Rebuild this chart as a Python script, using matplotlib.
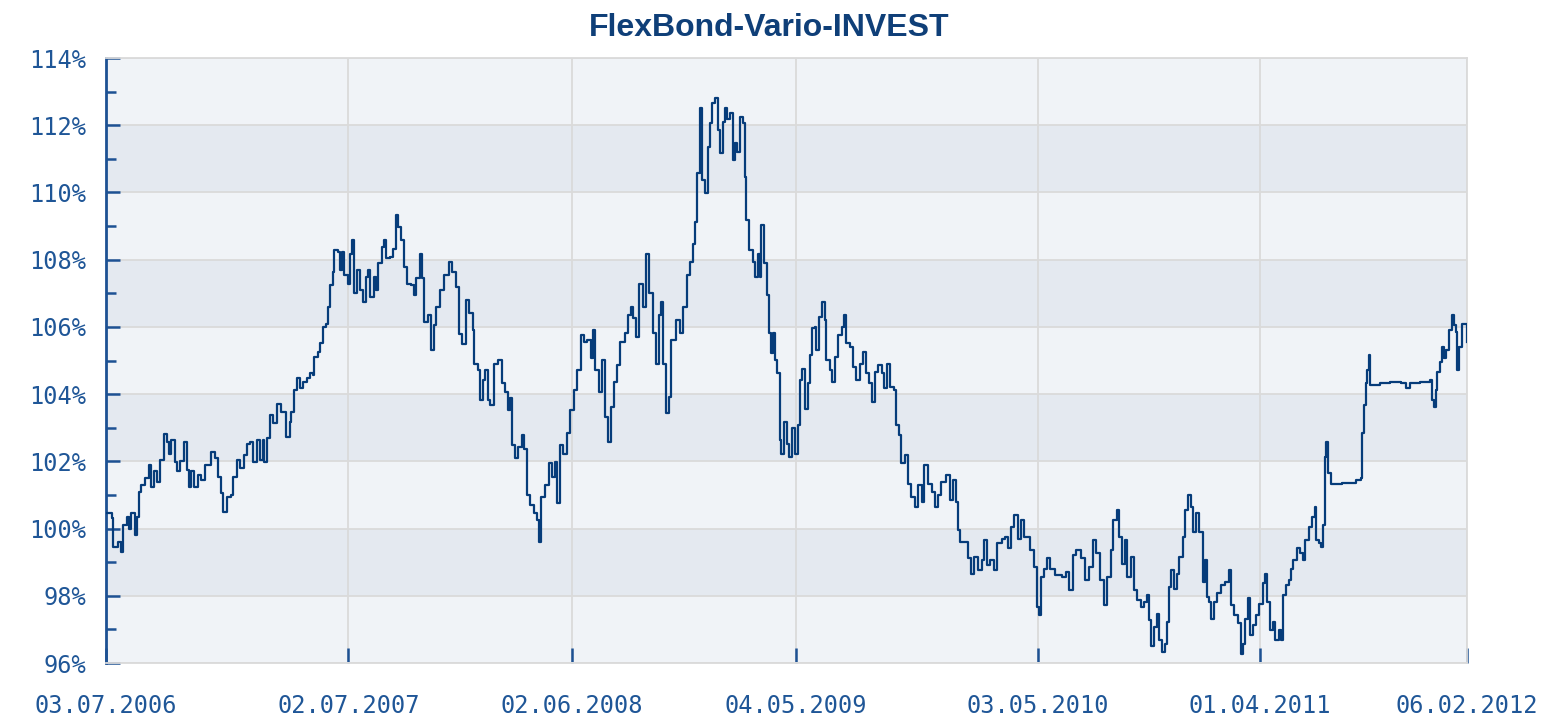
#!/usr/bin/env python3
"""FlexBond-Vario-INVEST – Wertentwicklung in % (03.07.2006 bis 06.02.2012)."""

import matplotlib
matplotlib.use("Agg")
import matplotlib.pyplot as plt
import matplotlib.dates as mdates
from matplotlib.ticker import MultipleLocator, FuncFormatter
import pandas as pd

# ── Daten ─────────────────────────────────────────────────────────────────────
START = "2006-07-03"

# Kalendertage seit Start
days = [
    1, 9, 10, 18, 22, 25, 31, 35, 38, 43, 46, 50, 53, 58, 64, 68, 72, 76, 81, 87,
    91, 95, 98, 103, 107, 111, 117, 121, 125, 128, 132, 138, 143, 148, 158, 163,
    168, 172, 176, 181, 188, 191, 196, 201, 207, 212, 216, 221, 226, 231, 235,
    237, 241, 246, 250, 257, 263, 270, 276, 278, 283, 287, 291, 296, 302, 307,
    311, 313, 318, 322, 326, 331, 333, 337, 341, 343, 348, 351, 355, 358, 363,
    367, 370, 373, 377, 381, 386, 390, 393, 397, 402, 406, 409, 414, 417, 421,
    426, 431, 435, 439, 443, 448, 452, 458, 462, 466, 471, 474, 478, 483, 488,
    492, 496, 501, 507, 515, 520, 525, 530, 535, 540, 545, 551, 553, 558, 562,
    566, 569, 573, 577, 583, 589, 594, 599, 603, 606, 610, 614, 619, 624, 628,
    632, 637, 642, 647, 650, 654, 659, 665, 670, 674, 677, 682, 687, 692, 697,
    703, 708, 713, 718, 723, 728, 731, 735, 740, 745, 750, 754, 758, 763, 768,
    772, 779, 784, 789, 792, 796, 800, 806, 811, 816, 821, 826, 831, 834, 837,
    841, 846, 849, 856, 862, 867, 872, 877, 881, 885, 888, 892, 895, 900, 904,
    907, 910, 914, 919, 922, 926, 930, 933, 937, 941, 944, 948, 952, 956, 959,
    961, 966, 971, 975, 979, 982, 984, 988, 992, 996, 998, 1002, 1004, 1008,
    1012, 1014, 1018, 1022, 1026, 1030, 1034, 1039, 1042, 1046, 1050, 1055,
    1057, 1061, 1065, 1067, 1071, 1075, 1080, 1082, 1087, 1090, 1095, 1099,
    1105, 1109, 1112, 1117, 1122, 1127, 1132, 1137, 1142, 1146, 1151, 1155,
    1160, 1165, 1169, 1173, 1177, 1184, 1187, 1191, 1194, 1200, 1204, 1209,
    1215, 1220, 1225, 1229, 1235, 1240, 1245, 1249, 1254, 1261, 1268, 1272,
    1276, 1279, 1283, 1290, 1294, 1299, 1304, 1309, 1315, 1319, 1323, 1328,
    1333, 1338, 1345, 1350, 1355, 1359, 1364, 1369, 1374, 1379, 1385, 1388,
    1393, 1398, 1401, 1404, 1409, 1413, 1418, 1425, 1435, 1442, 1447, 1452,
    1457, 1464, 1471, 1477, 1482, 1487, 1493, 1499, 1504, 1509, 1513, 1519,
    1522, 1526, 1530, 1534, 1539, 1544, 1549, 1554, 1559, 1564, 1566, 1569,
    1574, 1578, 1582, 1586, 1591, 1594, 1596, 1600, 1604, 1609, 1612, 1617,
    1621, 1625, 1629, 1633, 1637, 1642, 1647, 1650, 1653, 1656, 1660, 1664,
    1669, 1674, 1681, 1686, 1689, 1694, 1700, 1704, 1708, 1711, 1715, 1718,
    1723, 1727, 1732, 1737, 1741, 1744, 1748, 1752, 1756, 1761, 1764, 1768,
    1772, 1777, 1779, 1783, 1788, 1793, 1797, 1801, 1806, 1811, 1815, 1817,
    1821, 1825, 1827, 1830, 1832, 1836, 1840, 1857, 1878, 1885, 1887, 1889,
    1893, 1894, 1897, 1899, 1913, 1928, 1945, 1953, 1958, 1973, 1988, 1991,
    1994, 1997, 1999, 2003, 2006, 2009, 2013, 2017, 2021, 2024, 2027, 2029,
    2032, 2036, 2041, 2044,
]

# Wert in %
kurs = [
    100.46, 100.30, 99.46, 99.60, 99.30, 100.10, 100.35, 100.00, 100.46, 99.80,
    100.35, 101.10, 101.30, 101.50, 101.90, 101.24, 101.70, 101.40, 102.04,
    102.80, 102.58, 102.23, 102.63, 101.99, 101.70, 102.00, 102.58, 101.74,
    101.24, 101.70, 101.24, 101.60, 101.44, 101.89, 102.28, 102.09, 101.54,
    101.05, 100.50, 100.95, 101.00, 101.54, 102.04, 101.79, 102.18, 102.53,
    102.58, 101.99, 102.63, 102.04, 102.63, 101.99, 102.68, 103.38, 103.13,
    103.70, 103.47, 102.73, 103.18, 103.47, 104.12, 104.47, 104.17, 104.37,
    104.47, 104.62, 104.57, 105.11, 105.26, 105.51, 106.00, 106.10, 106.60,
    107.24, 107.64, 108.29, 108.24, 107.69, 108.24, 107.54, 107.29,
    108.18, 108.58, 107.00, 107.69, 107.10, 106.75, 107.49, 107.69, 106.90,
    107.49, 107.10, 107.89, 108.38, 108.58, 108.04, 108.09, 108.33, 109.33,
    108.98, 108.58, 107.79, 107.29, 107.24, 106.95, 107.44, 108.18, 107.44,
    106.15, 106.35, 105.31, 106.05, 106.60, 107.10, 107.54, 107.94, 107.64,
    107.19, 105.80, 105.50, 106.80, 106.40, 105.90, 104.91, 104.71, 103.82,
    104.42, 104.71, 103.82, 103.67, 104.91, 105.01, 104.32, 104.07, 103.52,
    103.87, 102.48, 102.09, 102.43, 102.78, 102.38, 100.99, 100.70, 100.45,
    100.24, 99.60, 100.95, 101.30, 101.94, 101.54, 101.99, 100.75, 102.48,
    102.23, 102.83, 103.52,
    104.12, 104.71, 105.76, 105.56, 105.61, 105.06, 105.90, 104.71, 104.07,
    105.01, 103.33, 102.58, 103.62, 104.37, 104.86, 105.56, 105.81, 106.35,
    106.60, 106.25, 105.70, 107.29, 106.60, 108.18, 107.00, 105.81, 104.91,
    106.35, 106.75, 104.91, 103.43, 103.92, 105.61, 106.20, 105.81, 106.60,
    107.54, 107.94, 108.48, 109.13, 110.57, 112.50, 110.37, 109.97, 111.36,
    112.06, 112.65, 112.80, 111.86, 111.16, 112.10, 112.50, 112.20, 112.35,
    110.96, 111.46, 111.21, 112.25, 112.06, 110.47, 109.18, 108.29, 107.94,
    107.49, 108.18, 107.49, 109.03, 107.89, 106.95, 105.81, 105.21, 105.81,
    105.01, 104.62, 102.63, 102.23, 103.18, 102.53, 102.13, 102.98, 102.23,
    103.08, 104.42, 104.76, 103.57, 104.32, 105.16, 105.96, 106.00, 105.31,
    106.30, 106.75, 106.20, 105.01, 104.71, 104.37, 105.11, 105.76, 106.00,
    106.35, 105.51, 105.41, 104.81, 104.42, 104.91, 105.26, 104.62, 104.32,
    103.77, 104.66, 104.86, 104.62, 104.17, 104.91, 104.22, 104.12, 103.08,
    102.78, 101.94, 102.18, 101.34, 100.95, 100.65, 101.29, 100.80, 101.89,
    101.34, 101.09, 100.65, 100.99, 101.39, 101.59, 100.85, 101.44, 100.80,
    99.95, 99.60, 99.60, 99.11, 98.66, 99.16, 98.76, 99.06, 99.65, 98.91,
    99.06, 98.76, 99.56, 99.70, 99.75, 99.41, 100.04, 100.39, 99.70, 100.24,
    99.75, 99.75, 99.36, 98.86, 97.67,
    97.42, 98.56, 98.81, 99.11, 98.81, 98.61, 98.56, 98.71, 98.17, 99.21,
    99.36, 99.11, 98.46, 98.86, 99.65, 99.26, 98.46, 97.72, 98.56, 99.36,
    100.24, 100.54, 99.75, 98.96, 99.65, 98.56, 99.16, 98.17, 97.87, 97.67,
    97.82, 98.02, 97.27, 96.52, 97.07, 97.47, 96.67, 96.33, 96.58, 97.22,
    98.27, 98.76, 98.21, 98.66, 99.16, 99.75, 100.54, 100.99, 100.65, 99.90,
    100.45, 99.90, 98.41, 99.06, 97.97, 97.82, 97.32, 97.82, 98.07, 98.31,
    98.41, 98.76, 97.72, 97.42, 97.18, 96.28, 96.58, 97.32, 97.92, 96.83,
    97.12, 97.42, 97.77,
    98.37, 98.66, 97.82, 96.98, 97.22, 96.68, 96.98, 96.68, 98.02, 98.31,
    98.46, 98.81, 99.06, 99.41, 99.26, 99.06, 99.65, 100.04, 100.34, 100.65,
    99.65, 99.56, 99.46, 100.10, 102.13, 102.58, 101.64, 101.34, 101.36,
    101.44, 101.49, 102.83, 103.67, 104.32, 104.71, 105.16, 104.27, 104.32,
    104.37, 104.33, 104.17, 104.32, 104.37, 104.42, 103.82, 103.62, 104.12,
    104.66, 104.96, 105.41, 105.06, 105.31, 105.90, 106.35, 106.05, 105.85,
    104.71, 105.41, 106.10, 106.10, 105.56,
]

tick_dates = ["2006-07-03", "2007-07-02", "2008-06-02", "2009-05-04",
              "2010-05-03", "2011-04-01", "2012-02-06"]

# ── Stil ──────────────────────────────────────────────────────────────────────
LINE    = "#063c7a"
AXIS    = "#1d5193"
LABEL   = "#1f5697"
TITLE   = "#0f3f78"
BAND_LT = "#f0f3f7"
BAND_DK = "#e4e9f0"
GRID    = "#dadada"

dates = pd.Timestamp(START) + pd.to_timedelta(days, unit="D")
ticks = pd.to_datetime(tick_dates)

fig = plt.figure(figsize=(15.55, 7.17), dpi=100)
ax = fig.add_axes([0.0682, 0.0753, 0.8752, 0.8438])

ax.set_xlim(ticks[0], ticks[-1])
ax.set_ylim(96, 114)

# abwechselnde Bänder
for i, lo in enumerate(range(96, 114, 2)):
    ax.axhspan(lo, lo + 2, color=BAND_LT if i % 2 == 0 else BAND_DK,
               lw=0, zorder=0)

# Tageswerte -> Treppenlinie wie im Original
ax.plot(dates, kurs, color=LINE, lw=1.6, drawstyle="steps-post", zorder=3)

# Achsen
ax.yaxis.set_major_locator(MultipleLocator(2))
ax.yaxis.set_minor_locator(MultipleLocator(1))
ax.yaxis.set_major_formatter(FuncFormatter(lambda v, _: f"{v:.0f}%"))
ax.set_xticks(ticks)
ax.xaxis.set_major_formatter(mdates.DateFormatter("%d.%m.%Y"))

ax.grid(True, which="major", color=GRID, lw=1.3, zorder=1)
ax.set_axisbelow(True)

ax.tick_params(axis="y", which="major", direction="in", length=10, width=1.8,
               color=AXIS, labelcolor=LABEL, labelsize=17, pad=14)
ax.tick_params(axis="y", which="minor", direction="in", length=7, width=1.8,
               color=AXIS)
ax.tick_params(axis="x", which="major", direction="in", length=11, width=1.8,
               color=AXIS, labelcolor=LABEL, labelsize=17, pad=22)
for lab in ax.get_xticklabels() + ax.get_yticklabels():
    lab.set_family("DejaVu Sans Mono")

for side in ("top", "right", "bottom"):
    ax.spines[side].set_color(GRID)
    ax.spines[side].set_linewidth(1.3)
ax.spines["left"].set_color(AXIS)
ax.spines["left"].set_linewidth(2)

fig.text(0.4945, 0.9616, "FlexBond-Vario-INVEST", ha="center", va="center",
         color=TITLE, fontsize=23, fontweight="bold", family="Liberation Sans")

fig.savefig("out.png", dpi=100, facecolor="white")
